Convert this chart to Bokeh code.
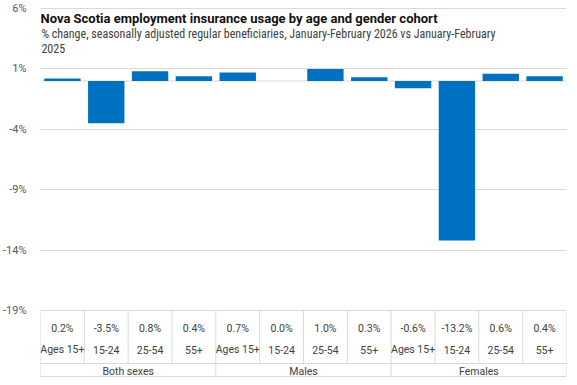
from bokeh.plotting import figure
from bokeh.models import (Range1d, FixedTicker, PrintfTickFormatter, ColumnDataSource,
                          Label, Span)
from bokeh.core.properties import value
from bokeh.embed import file_html
from bokeh.resources import INLINE

# ---- data ----
groups = ["Both sexes", "Males", "Females"]
ages = ["Ages 15+", "15-24", "25-54", "55+"]
values = [0.2, -3.5, 0.8, 0.4, 0.7, 0.0, 1.0, 0.3, -0.6, -13.2, 0.6, 0.4]
y_ticks = [6, 1, -4, -9, -14, -19]

title = "Nova Scotia employment insurance usage by age and gender cohort"
subtitle1 = "% change, seasonally adjusted regular beneficiaries,  January-February  2026 vs January-February"
subtitle2 = "2025"

BLUE = "#0070C0"
GRID = "#d9d9d9"
TXT = "#404040"
FONT = "Roboto"
TFONT = "Liberation Sans Narrow, Roboto Condensed, DejaVu Sans Condensed, sans-serif"

H = 377
S = 302 / 25.0            # pixels per percentage point
Y_END = 6 + 8 / S
Y_START = Y_END - H / S


def fy(px):
    """vertical screen offset (px from top of figure) -> data y"""
    return Y_END - px / S


n = len(values)
xs = [i + 0.5 for i in range(n)]

y_top = fy(310)
y_val = fy(328)
y_age = fy(349)
y_hl = fy(363)
y_grp = fy(370.5)
y_bot = fy(376)

p = figure(width=569, height=H, output_backend="svg", toolbar_location=None,
           x_range=Range1d(0, n), y_range=Range1d(Y_START, Y_END),
           x_axis_location=None, min_border_left=33, min_border_right=3,
           min_border_top=0, min_border_bottom=0)
p.outline_line_color = None
p.background_fill_color = "white"
p.border_fill_color = "white"
p.xgrid.visible = False

ya = p.yaxis[0]
ya.ticker = FixedTicker(ticks=y_ticks)
ya.formatter = PrintfTickFormatter(format="%d%%")
ya.axis_line_color = None
ya.major_tick_line_color = None
ya.minor_tick_line_color = None
ya.major_label_standoff = 8
ya.major_label_text_font = FONT
ya.major_label_text_font_size = "11px"
ya.major_label_text_color = "#595959"
p.ygrid.ticker = FixedTicker(ticks=y_ticks)
p.ygrid.grid_line_color = GRID

# zero baseline (under the bars)
p.add_layout(Span(location=0, dimension="width", line_color=GRID, line_width=1,
                  level="underlay"))

# bars
p.vbar(x=xs, top=values, bottom=0, width=0.83, fill_color=BLUE, line_color=None)

# table lines
x0s, y0s, x1s, y1s = [], [], [], []
for i in range(n + 1):
    full = (i % len(ages) == 0)
    x0s.append(i); x1s.append(i)
    y0s.append(y_top); y1s.append(y_bot if full else y_hl)
for yy in (y_hl, y_bot):
    x0s.append(0); x1s.append(n); y0s.append(yy); y1s.append(yy)
p.segment(x0=x0s, y0=y0s, x1=x1s, y1=y1s, line_color=GRID, line_width=1)

# table text
val_src = ColumnDataSource(dict(x=xs, y=[y_val] * n, t=[f"{v:.1f}%" for v in values]))
p.text(x="x", y="y", text="t", source=val_src, text_align="center", text_baseline="middle",
       text_font=value(FONT), text_font_size="10.5px", text_color=TXT)
age_src = ColumnDataSource(dict(x=xs, y=[y_age] * n, t=ages * len(groups)))
p.text(x="x", y="y", text="t", source=age_src, text_align="center", text_baseline="middle",
       text_font=value(FONT), text_font_size="10.5px", text_color=TXT)
gx = [len(ages) * g + len(ages) / 2 for g in range(len(groups))]
grp_src = ColumnDataSource(dict(x=gx, y=[y_grp] * len(groups), t=groups))
p.text(x="x", y="y", text="t", source=grp_src, text_align="center", text_baseline="middle",
       text_font=value(FONT), text_font_size="10.5px", text_color=TXT)

# titles
p.add_layout(Label(x=0, y=fy(18), text=title, text_font="Roboto",
                   text_font_size="13px", text_font_style="bold", text_color="#111111",
                   text_baseline="middle", text_align="left"))
p.add_layout(Label(x=0.02, y=fy(33), text=subtitle1, text_font=TFONT,
                   text_font_size="12px", text_color=TXT,
                   text_baseline="middle", text_align="left"))
p.add_layout(Label(x=0.02, y=fy(48), text=subtitle2, text_font=TFONT,
                   text_font_size="12px", text_color=TXT,
                   text_baseline="middle", text_align="left"))

open("out.html", "w").write(file_html(p, INLINE))
